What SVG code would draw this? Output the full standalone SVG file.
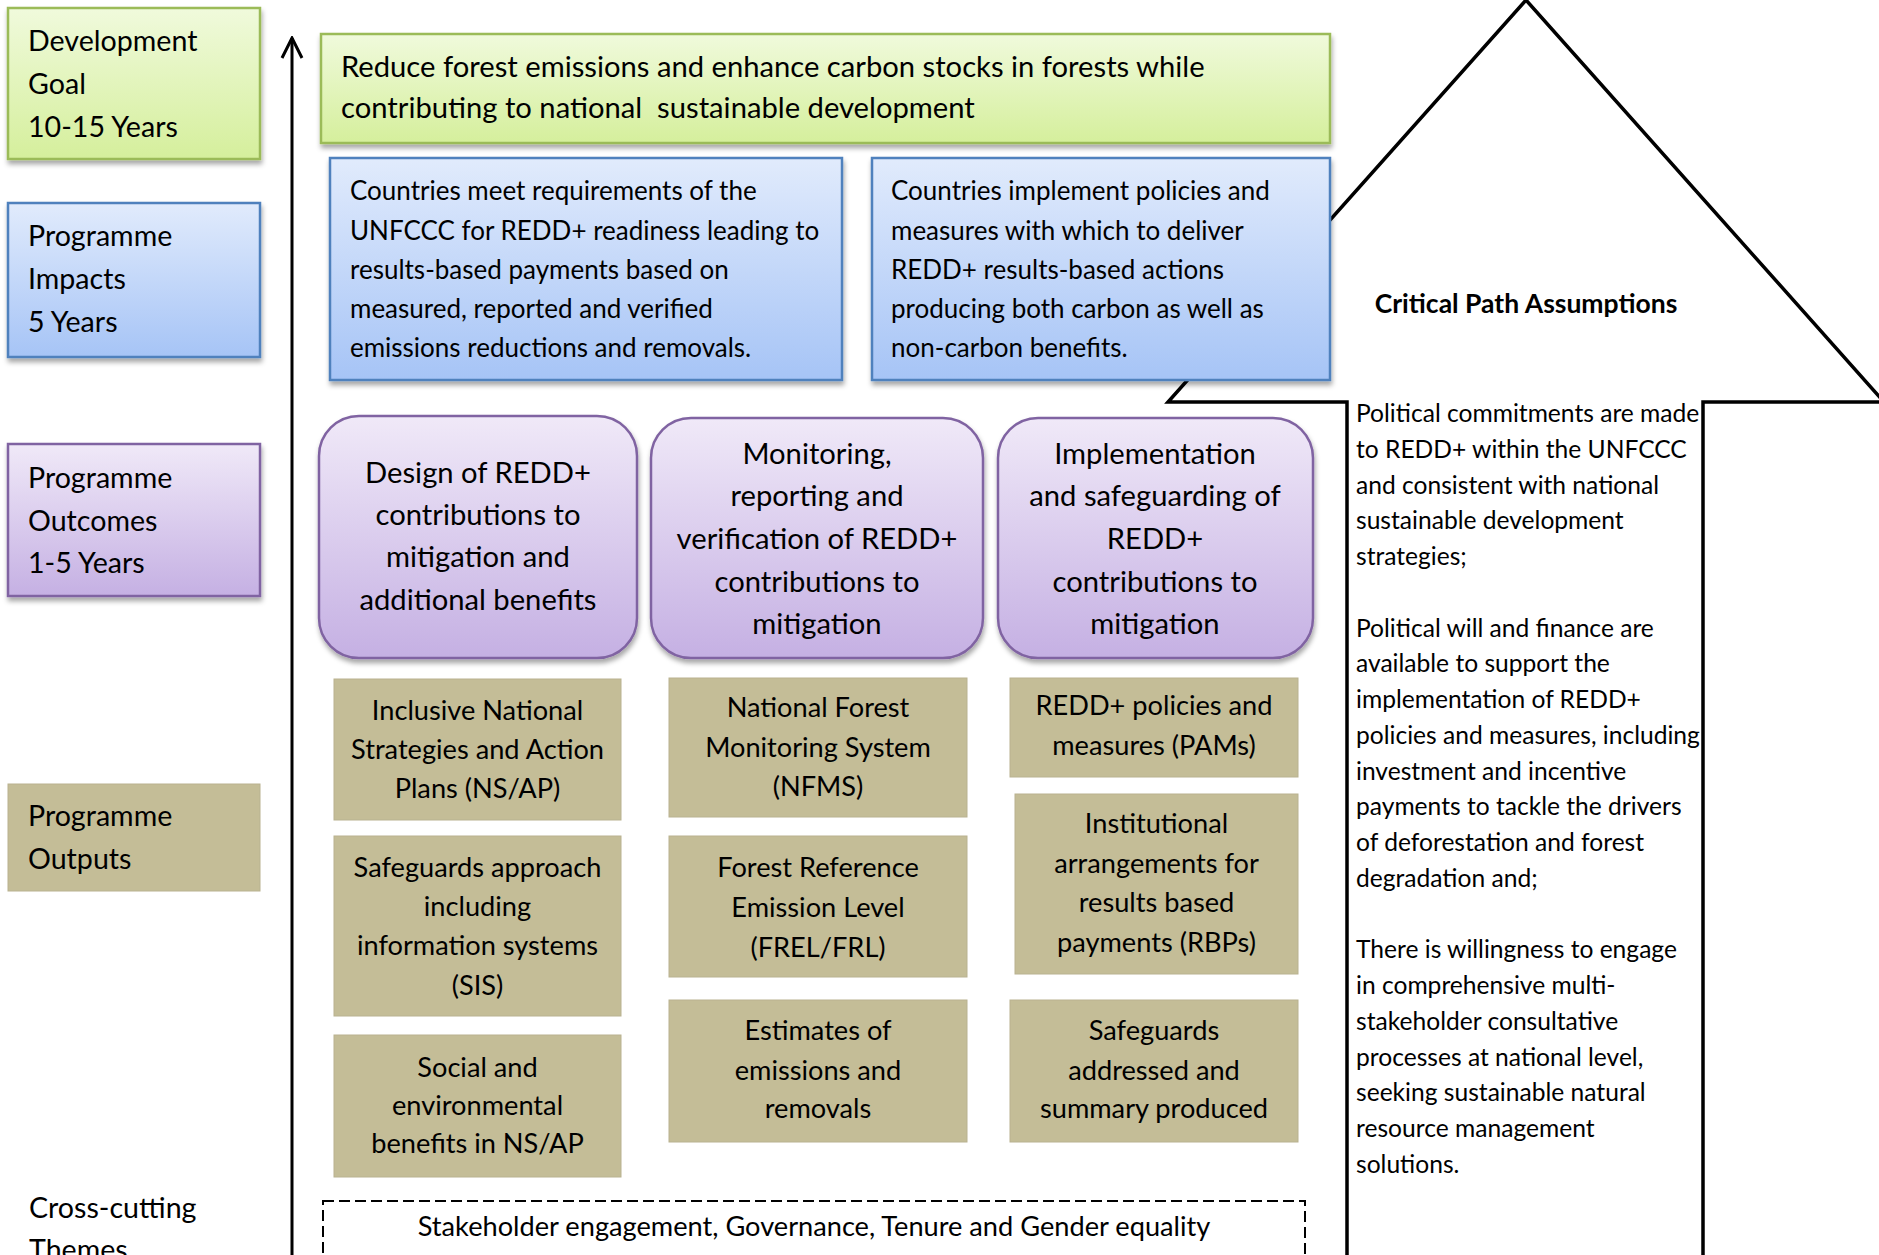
<svg xmlns="http://www.w3.org/2000/svg" width="1879" height="1255" viewBox="0 0 1879 1255">
<style>
text { font-family: Lato, "Liberation Sans", Arial, sans-serif; fill: #000; }
.lbl { font-size: 28.6px; }
.goal { font-size: 29.2px; }
.imp { font-size: 26px; }
.oc { font-size: 29.2px; text-anchor: middle; }
.op { font-size: 27.2px; text-anchor: middle; }
.cp { font-size: 24.6px; }
.cpt { font-size: 26.5px; font-weight: bold; text-anchor: middle; }
.cc { font-size: 27.2px; text-anchor: middle; }
.green { fill: url(#gGreen); stroke: #9bbb59; stroke-width: 2.5; }
.blue { fill: url(#gBlue); stroke: #4f81bd; stroke-width: 2.5; }
.purple { fill: url(#gPurple); stroke: #8064a2; stroke-width: 2.5; }
.tan { fill: #c4bd97; stroke: #b9b290; stroke-width: 1; }
.shadow { filter: url(#sh); }
</style>
<defs>
<linearGradient id="gGreen" x1="0" y1="0" x2="0" y2="1">
<stop offset="0" stop-color="#f0fadc"/><stop offset="1" stop-color="#d5ef9c"/>
</linearGradient>
<linearGradient id="gBlue" x1="0" y1="0" x2="0" y2="1">
<stop offset="0" stop-color="#e1ebfc"/><stop offset="1" stop-color="#a6c4f6"/>
</linearGradient>
<linearGradient id="gPurple" x1="0" y1="0" x2="0" y2="1">
<stop offset="0" stop-color="#f0e9f8"/><stop offset="1" stop-color="#c5b0e3"/>
</linearGradient>
<filter id="sh" x="-5%" y="-5%" width="112%" height="125%">
<feDropShadow dx="1" dy="4" stdDeviation="2.5" flood-color="#000" flood-opacity="0.35"/>
</filter>
<marker id="openHead" viewBox="-22 -12 24 24" markerWidth="24" markerHeight="24" refX="0" refY="0" orient="auto" markerUnits="userSpaceOnUse">
<path d="M-20,-10 L0,0 L-20,10" fill="none" stroke="#000" stroke-width="3"/>
</marker>
</defs>
<rect width="1879" height="1255" fill="#fff"/>

<!-- Critical path block arrow (behind other boxes) -->
<g id="n-critical-path">
<polygon points="1347,1262 1347,402 1168,402 1526,0 1884,402 1703,402 1703,1262" fill="#fff" stroke="#000" stroke-width="3.5"/>
<text class="cpt" x="1526" y="313">Critical Path Assumptions</text>
<text class="cp" x="1356" y="422">Political commitments are made</text>
<text class="cp" x="1356" y="457.75">to REDD+ within the UNFCCC</text>
<text class="cp" x="1356" y="493.5">and consistent with national</text>
<text class="cp" x="1356" y="529.25">sustainable development</text>
<text class="cp" x="1356" y="565">strategies;</text>
<text class="cp" x="1356" y="636.5">Political will and finance are</text>
<text class="cp" x="1356" y="672.25">available to support the</text>
<text class="cp" x="1356" y="708">implementation of REDD+</text>
<text class="cp" x="1356" y="743.75">policies and measures, including</text>
<text class="cp" x="1356" y="779.5">investment and incentive</text>
<text class="cp" x="1356" y="815.25">payments to tackle the drivers</text>
<text class="cp" x="1356" y="851">of deforestation and forest</text>
<text class="cp" x="1356" y="886.75">degradation and;</text>
<text class="cp" x="1356" y="958.25">There is willingness to engage</text>
<text class="cp" x="1356" y="994">in comprehensive multi-</text>
<text class="cp" x="1356" y="1029.75">stakeholder consultative</text>
<text class="cp" x="1356" y="1065.5">processes at national level,</text>
<text class="cp" x="1356" y="1101.25">seeking sustainable natural</text>
<text class="cp" x="1356" y="1137">resource management</text>
<text class="cp" x="1356" y="1172.75">solutions.</text>
</g>

<!-- Left column labels -->
<g id="n-label-goal">
<rect class="green shadow" x="8" y="8" width="252" height="151"/>
<text class="lbl" x="28" y="51">Development</text>
<text class="lbl" x="28" y="94">Goal</text>
<text class="lbl" x="28" y="137">10-15 Years</text>
</g>
<g id="n-label-impacts">
<rect class="blue shadow" x="8" y="203" width="252" height="154"/>
<text class="lbl" x="28" y="246">Programme</text>
<text class="lbl" x="28" y="289">Impacts</text>
<text class="lbl" x="28" y="332">5 Years</text>
</g>
<g id="n-label-outcomes">
<rect class="purple shadow" x="8" y="444" width="252" height="152"/>
<text class="lbl" x="28" y="488">Programme</text>
<text class="lbl" x="28" y="531">Outcomes</text>
<text class="lbl" x="28" y="573">1-5 Years</text>
</g>
<g id="n-label-outputs">
<rect class="tan" x="8" y="784" width="252" height="107"/>
<text class="lbl" x="28" y="826">Programme</text>
<text class="lbl" x="28" y="869">Outputs</text>
</g>
<g id="n-label-crosscutting">
<text class="lbl" x="29" y="1218">Cross-cutting</text>
<text class="lbl" x="29" y="1260">Themes</text>
</g>

<!-- Development goal -->
<g id="n-goal">
<rect class="green shadow" x="321" y="34" width="1009" height="109"/>
<text class="goal" x="341" y="77">Reduce forest emissions and enhance carbon stocks in forests while</text>
<text class="goal" x="341" y="118" style="white-space:pre">contributing to national  sustainable development</text>
</g>

<!-- Impacts -->
<g id="n-impact-1">
<rect class="blue shadow" x="330" y="158" width="512" height="222"/>
<text class="imp" x="350" y="200">Countries meet requirements of the</text>
<text class="imp" x="350" y="239.5">UNFCCC for REDD+ readiness leading to</text>
<text class="imp" x="350" y="279">results-based payments based on</text>
<text class="imp" x="350" y="318">measured, reported and verified</text>
<text class="imp" x="350" y="357">emissions reductions and removals.</text>
</g>
<g id="n-impact-2">
<rect class="blue shadow" x="872" y="158" width="458" height="222"/>
<text class="imp" x="891" y="200">Countries implement policies and</text>
<text class="imp" x="891" y="239.5">measures with which to deliver</text>
<text class="imp" x="891" y="279">REDD+ results-based actions</text>
<text class="imp" x="891" y="318">producing both carbon as well as</text>
<text class="imp" x="891" y="357">non-carbon benefits.</text>
</g>

<!-- Outcomes -->
<g id="n-outcome-1">
<rect class="purple shadow" x="319" y="416" width="318" height="242" rx="40" ry="40"/>
<text class="oc" x="478" y="483">Design of REDD+</text>
<text class="oc" x="478" y="525">contributions to</text>
<text class="oc" x="478" y="567">mitigation and</text>
<text class="oc" x="478" y="610">additional benefits</text>
</g>
<g id="n-outcome-2">
<rect class="purple shadow" x="651" y="418" width="332" height="240" rx="40" ry="40"/>
<text class="oc" x="817" y="464">Monitoring,</text>
<text class="oc" x="817" y="506">reporting and</text>
<text class="oc" x="817" y="549">verification of REDD+</text>
<text class="oc" x="817" y="592">contributions to</text>
<text class="oc" x="817" y="634">mitigation</text>
</g>
<g id="n-outcome-3">
<rect class="purple shadow" x="998" y="418" width="315" height="240" rx="40" ry="40"/>
<text class="oc" x="1155" y="464">Implementation</text>
<text class="oc" x="1155" y="506">and safeguarding of</text>
<text class="oc" x="1155" y="549">REDD+</text>
<text class="oc" x="1155" y="592">contributions to</text>
<text class="oc" x="1155" y="634">mitigation</text>
</g>

<!-- Outputs -->
<g id="n-output-nsap">
<rect class="tan" x="334" y="679" width="287" height="141"/>
<text class="op" x="477.5" y="720">Inclusive National</text>
<text class="op" x="477.5" y="759">Strategies and Action</text>
<text class="op" x="477.5" y="798">Plans (NS/AP)</text>
</g>
<g id="n-output-sis">
<rect class="tan" x="334" y="836" width="287" height="180"/>
<text class="op" x="477.5" y="877">Safeguards approach</text>
<text class="op" x="477.5" y="916">including</text>
<text class="op" x="477.5" y="955">information systems</text>
<text class="op" x="477.5" y="995">(SIS)</text>
</g>
<g id="n-output-benefits">
<rect class="tan" x="334" y="1035" width="287" height="142"/>
<text class="op" x="477.5" y="1077">Social and</text>
<text class="op" x="477.5" y="1115">environmental</text>
<text class="op" x="477.5" y="1153">benefits in NS/AP</text>
</g>
<g id="n-output-nfms">
<rect class="tan" x="669" y="678" width="298" height="139"/>
<text class="op" x="818" y="717">National Forest</text>
<text class="op" x="818" y="757">Monitoring System</text>
<text class="op" x="818" y="796">(NFMS)</text>
</g>
<g id="n-output-frel">
<rect class="tan" x="669" y="836" width="298" height="141"/>
<text class="op" x="818" y="877">Forest Reference</text>
<text class="op" x="818" y="917">Emission Level</text>
<text class="op" x="818" y="957">(FREL/FRL)</text>
</g>
<g id="n-output-estimates">
<rect class="tan" x="669" y="1000" width="298" height="142"/>
<text class="op" x="818" y="1040">Estimates of</text>
<text class="op" x="818" y="1080">emissions and</text>
<text class="op" x="818" y="1118">removals</text>
</g>
<g id="n-output-pams">
<rect class="tan" x="1010" y="678" width="288" height="99"/>
<text class="op" x="1154" y="715">REDD+ policies and</text>
<text class="op" x="1154" y="755">measures (PAMs)</text>
</g>
<g id="n-output-rbp">
<rect class="tan" x="1015" y="794" width="283" height="180"/>
<text class="op" x="1156.5" y="833">Institutional</text>
<text class="op" x="1156.5" y="873">arrangements for</text>
<text class="op" x="1156.5" y="912">results based</text>
<text class="op" x="1156.5" y="952">payments (RBPs)</text>
</g>
<g id="n-output-safeguards">
<rect class="tan" x="1010" y="1000" width="288" height="142"/>
<text class="op" x="1154" y="1040">Safeguards</text>
<text class="op" x="1154" y="1080">addressed and</text>
<text class="op" x="1154" y="1118">summary produced</text>
</g>

<!-- Cross-cutting themes -->
<g id="n-crosscutting">
<rect x="323" y="1201" width="982" height="100" fill="none" stroke="#000" stroke-width="2" stroke-dasharray="11 5"/>
<text class="cc" x="814" y="1236">Stakeholder engagement, Governance, Tenure and Gender equality</text>
</g>

<!-- Connectors -->
<g id="connectors">
<line x1="292" y1="1260" x2="292" y2="38" stroke="#000" stroke-width="3" marker-end="url(#openHead)"/>
</g>
</svg>
